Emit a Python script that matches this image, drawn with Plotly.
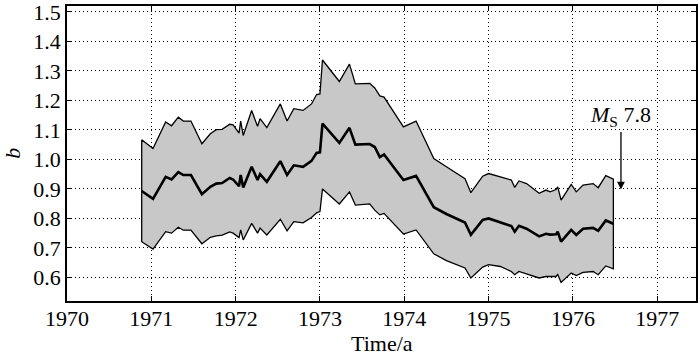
import plotly.graph_objects as go

# Time (years) of each window
time_a = [1970.886, 1971.02, 1971.17, 1971.24, 1971.32, 1971.38, 1971.47, 1971.60,
          1971.70, 1971.77, 1971.84, 1971.93, 1971.97, 1972.04, 1972.06, 1972.09,
          1972.19, 1972.26, 1972.29, 1972.37, 1972.53, 1972.61, 1972.69, 1972.80,
          1972.90, 1972.96, 1973.00, 1973.03, 1973.23, 1973.35, 1973.42, 1973.59,
          1973.65, 1973.71, 1973.76, 1973.99, 1974.14, 1974.35, 1974.50, 1974.72,
          1974.79, 1974.93, 1975.00, 1975.14, 1975.27, 1975.31, 1975.36, 1975.45,
          1975.60, 1975.68, 1975.73, 1975.80, 1975.82, 1975.86, 1975.98, 1976.04,
          1976.12, 1976.24, 1976.30, 1976.39, 1976.48]

b_upper = [1.067, 1.037, 1.127, 1.114, 1.143, 1.130, 1.130, 1.053,
           1.087, 1.101, 1.102, 1.119, 1.117, 1.089, 1.130, 1.081,
           1.166, 1.112, 1.138, 1.108, 1.188, 1.130, 1.172, 1.166,
           1.188, 1.220, 1.222, 1.337, 1.264, 1.323, 1.256, 1.258,
           1.242, 1.215, 1.211, 1.110, 1.130, 1.003, 0.975, 0.935,
           0.887, 0.943, 0.952, 0.941, 0.930, 0.905, 0.927, 0.918,
           0.885, 0.896, 0.890, 0.898, 0.907, 0.862, 0.915, 0.890,
           0.913, 0.918, 0.904, 0.945, 0.933]

b_mid = [0.893, 0.866, 0.941, 0.932, 0.957, 0.947, 0.947, 0.882,
         0.907, 0.918, 0.920, 0.937, 0.932, 0.909, 0.947, 0.905,
         0.975, 0.930, 0.950, 0.924, 0.994, 0.947, 0.980, 0.975,
         0.995, 1.022, 1.024, 1.121, 1.056, 1.107, 1.050, 1.052,
         1.042, 1.008, 1.017, 0.930, 0.944, 0.838, 0.815, 0.786,
         0.744, 0.795, 0.800, 0.786, 0.774, 0.755, 0.775, 0.765,
         0.739, 0.748, 0.745, 0.746, 0.755, 0.721, 0.761, 0.744,
         0.765, 0.768, 0.758, 0.793, 0.782]

b_lower = [0.721, 0.696, 0.755, 0.750, 0.770, 0.760, 0.760, 0.714,
           0.736, 0.741, 0.743, 0.754, 0.750, 0.735, 0.761, 0.727,
           0.783, 0.750, 0.767, 0.744, 0.797, 0.758, 0.789, 0.785,
           0.803, 0.819, 0.823, 0.900, 0.849, 0.890, 0.845, 0.849,
           0.828, 0.812, 0.817, 0.747, 0.761, 0.680, 0.657, 0.632,
           0.598, 0.635, 0.643, 0.637, 0.620, 0.609, 0.620, 0.613,
           0.598, 0.603, 0.603, 0.603, 0.610, 0.583, 0.615, 0.606,
           0.617, 0.620, 0.609, 0.639, 0.629]

x_ticks = [1970, 1971, 1972, 1973, 1974, 1975, 1976, 1977]
y_ticks = [0.6, 0.7, 0.8, 0.9, 1.0, 1.1, 1.2, 1.3, 1.4, 1.5]

x_title = "Time/a"
y_title = "<i>b</i>"

quake_time = 1976.57
quake_b = 0.898
quake_label = "<i>M</i><sub>S</sub> 7.8"

font_family = "Liberation Serif"
font_size = 22
txt_font = dict(family=font_family, size=font_size, color="black")

fig = go.Figure()

# Confidence band as a closed polygon
band_x = time_a + time_a[::-1] + [time_a[0]]
band_y = b_upper + b_lower[::-1] + [b_upper[0]]
fig.add_trace(go.Scatter(
    x=band_x, y=band_y, mode="lines", fill="toself",
    fillcolor="rgb(200,200,200)", line=dict(color="black", width=1.3),
    hoverinfo="skip", showlegend=False))

fig.add_trace(go.Scatter(
    x=time_a, y=b_mid, mode="lines",
    line=dict(color="black", width=2.6), showlegend=False))

axis_common = dict(
    showline=True, linecolor="black", linewidth=1.5, mirror="ticks",
    ticks="inside", ticklen=5, tickwidth=1.2, tickcolor="black",
    showgrid=True, gridcolor="black", gridwidth=1, griddash="1px,3px",
    zeroline=False, automargin=False, ticklabeloverflow="allow",
    tickfont=txt_font,
)

fig.update_xaxes(range=[1970, 1977.46], tickvals=x_ticks,
                 ticktext=[str(v) for v in x_ticks],
                 ticklabelstandoff=-3,
                 **axis_common)
fig.update_yaxes(range=[0.52, 1.52], tickvals=y_ticks,
                 ticktext=[f"{v:.1f}" for v in y_ticks],
                 **axis_common)

# Axis titles
fig.add_annotation(text=x_title, xref="paper", yref="paper", x=0.5, y=-0.143,
                   xanchor="center", yanchor="middle", showarrow=False, font=txt_font)
fig.add_annotation(text=y_title, xref="paper", yref="paper", x=-0.087, y=0.5,
                   xanchor="center", yanchor="middle", textangle=-90,
                   showarrow=False, font=txt_font)

# Earthquake marker
fig.add_annotation(
    x=quake_time, y=quake_b, xref="x", yref="y",
    ax=0, ay=-73, showarrow=True, arrowhead=2, arrowsize=1.2,
    arrowwidth=1.3, arrowcolor="black", text=quake_label, font=txt_font)

fig.update_layout(
    width=700, height=359,
    margin=dict(l=67, r=4, t=6, b=58),
    plot_bgcolor="white", paper_bgcolor="white",
    font=txt_font,
)

fig.write_html("out.html", config={"displayModeBar": False},
               post_script="document.body.style.margin='0';document.body.style.padding='0';")
